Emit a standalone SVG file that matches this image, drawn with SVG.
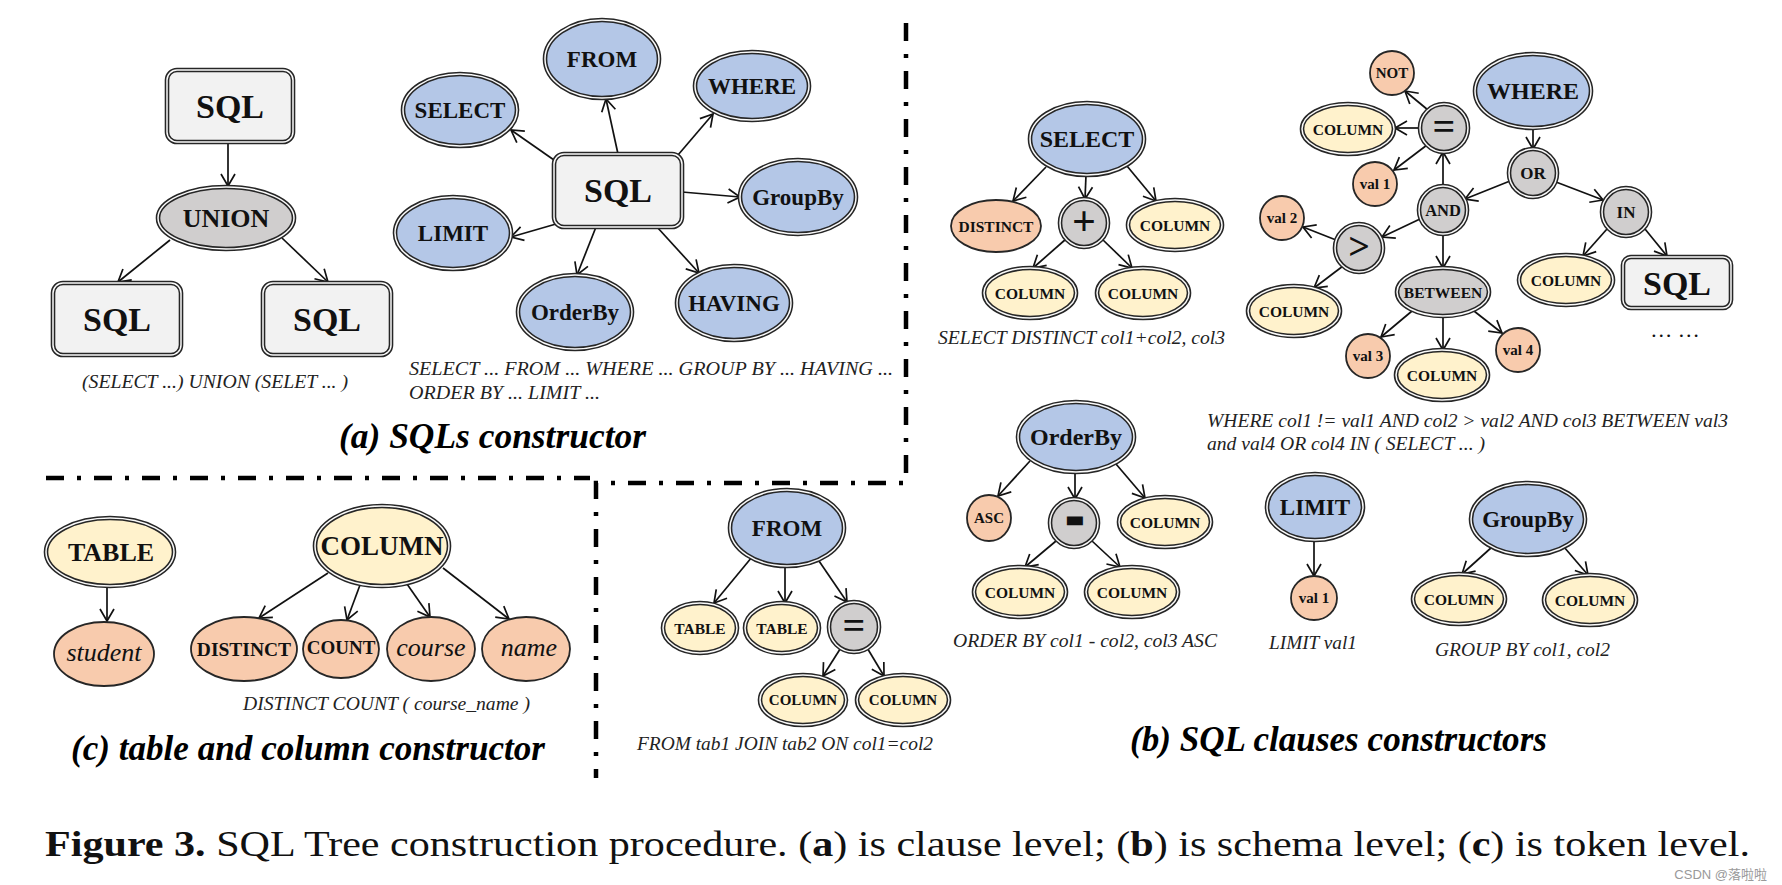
<svg xmlns="http://www.w3.org/2000/svg" width="1782" height="885" viewBox="0 0 1782 885">
<defs>
<marker id="ah" markerUnits="userSpaceOnUse" markerWidth="18" markerHeight="18" viewBox="-14 -9 16 18" refX="0" refY="0" orient="auto"><path d="M-12,-7 L0,0 L-12,7" fill="none" stroke="#111" stroke-width="1.7"/></marker>
</defs>
<style>
.d{stroke:#262626;stroke-width:4.6}
.gp{fill:none;stroke:#fafafa;stroke-width:1.5}
.s{stroke:#262626;stroke-width:1.8}
.bl{fill:#b4c7e7}.ye{fill:#fff2cc}.or{fill:#f8cbad}.gr{fill:#d0cece}.bx{fill:#f2f2f2}
text{font-family:"Liberation Serif","Times New Roman",serif;fill:#111}
.t{font-weight:bold;text-anchor:middle;dominant-baseline:central}
.it{font-style:italic;font-weight:normal}
.cap{font-style:italic;font-size:19px;fill:#222}
.ttl{font-style:italic;font-weight:bold;font-size:35px;fill:#000}
.con line{stroke:#111;stroke-width:1.7;marker-end:url(#ah)}
.sep{fill:none;stroke:#000;stroke-width:4.5;stroke-dasharray:18 13 4 13}
</style>
<rect width="1782" height="885" fill="#fff"/>

<!-- separators -->
<g id="separators">
<path class="sep" d="M906,23 V483 H596 V778"/>
<path class="sep" d="M46,478 H590"/>
</g>

<!-- connectors -->
<g class="con" id="connectors">
<!-- a left -->
<line x1="228" y1="142" x2="228" y2="186"/>
<line x1="170" y1="240" x2="118" y2="282"/>
<line x1="282" y1="238" x2="328" y2="282"/>
<!-- a right -->
<line x1="554" y1="160" x2="511" y2="130"/>
<line x1="618" y1="154" x2="606" y2="99"/>
<line x1="678" y1="155" x2="713" y2="114"/>
<line x1="682" y1="192" x2="740" y2="197"/>
<line x1="556" y1="224" x2="511" y2="237"/>
<line x1="596" y1="227" x2="577" y2="275"/>
<line x1="657" y1="227" x2="699" y2="273"/>
<!-- SELECT tree -->
<line x1="1046" y1="167" x2="1013" y2="201"/>
<line x1="1086" y1="175" x2="1085" y2="199"/>
<line x1="1127" y1="166" x2="1156" y2="201"/>
<line x1="1066" y1="239" x2="1033" y2="268"/>
<line x1="1102" y1="239" x2="1132" y2="268"/>
<!-- WHERE tree -->
<line x1="1533" y1="128" x2="1533" y2="149"/>
<line x1="1510" y1="181" x2="1465" y2="199"/>
<line x1="1556" y1="182" x2="1603" y2="200"/>
<line x1="1443" y1="186" x2="1443" y2="152"/>
<line x1="1428" y1="110" x2="1405" y2="91"/>
<line x1="1420" y1="128" x2="1395" y2="128"/>
<line x1="1427" y1="145" x2="1394" y2="170"/>
<line x1="1420" y1="219" x2="1382" y2="237"/>
<line x1="1336" y1="240" x2="1303" y2="227"/>
<line x1="1343" y1="266" x2="1314" y2="288"/>
<line x1="1443" y1="234" x2="1443" y2="268"/>
<line x1="1412" y1="311" x2="1381" y2="337"/>
<line x1="1443" y1="316" x2="1443" y2="350"/>
<line x1="1474" y1="311" x2="1502" y2="333"/>
<line x1="1607" y1="229" x2="1583" y2="256"/>
<line x1="1645" y1="229" x2="1667" y2="256"/>
<!-- OrderBy tree -->
<line x1="1030" y1="461" x2="998" y2="496"/>
<line x1="1075" y1="472" x2="1075" y2="499"/>
<line x1="1116" y1="464" x2="1145" y2="498"/>
<line x1="1056" y1="541" x2="1025" y2="567"/>
<line x1="1092" y1="541" x2="1120" y2="567"/>
<!-- LIMIT -->
<line x1="1314" y1="540" x2="1314" y2="576"/>
<!-- GroupBy -->
<line x1="1492" y1="547" x2="1462" y2="574"/>
<line x1="1564" y1="547" x2="1588" y2="575"/>
<!-- FROM tree -->
<line x1="752" y1="557" x2="714" y2="603"/>
<line x1="785" y1="566" x2="785" y2="603"/>
<line x1="819" y1="561" x2="847" y2="602"/>
<line x1="842" y1="646" x2="823" y2="676"/>
<line x1="866" y1="646" x2="884" y2="676"/>
<!-- c -->
<line x1="107" y1="586" x2="107" y2="621"/>
<line x1="328" y1="573" x2="259" y2="618"/>
<line x1="360" y1="585" x2="347" y2="620"/>
<line x1="407" y1="584" x2="430" y2="617"/>
<line x1="443" y1="568" x2="509" y2="619"/>
</g>

<!-- ===== (a) left ===== -->
<g id="a-sql-top"><rect class="d bx" x="167" y="70" width="126" height="72" rx="10"/><rect class="gp" x="167" y="70" width="126" height="72" rx="10"/><text class="t" x="230" y="106" font-size="34">SQL</text></g>
<g id="a-union"><ellipse class="d gr" cx="226" cy="218" rx="68" ry="31"/><ellipse class="gp" cx="226" cy="218" rx="68" ry="31"/><text class="t" x="226" y="218" font-size="26">UNION</text></g>
<g id="a-sql-left"><rect class="d bx" x="53" y="283" width="128" height="72" rx="10"/><rect class="gp" x="53" y="283" width="128" height="72" rx="10"/><text class="t" x="117" y="319" font-size="34">SQL</text></g>
<g id="a-sql-right"><rect class="d bx" x="263" y="283" width="128" height="72" rx="10"/><rect class="gp" x="263" y="283" width="128" height="72" rx="10"/><text class="t" x="327" y="319" font-size="34">SQL</text></g>
<text class="cap" x="82" y="388" textLength="266" lengthAdjust="spacingAndGlyphs">(SELECT ...) UNION (SELET ... )</text>

<!-- ===== (a) right ===== -->
<g id="a-sql-center"><rect class="d bx" x="554" y="154" width="128" height="73" rx="10"/><rect class="gp" x="554" y="154" width="128" height="73" rx="10"/><text class="t" x="618" y="190" font-size="34">SQL</text></g>
<g id="a-select"><ellipse class="d bl" cx="460" cy="110" rx="57" ry="36"/><ellipse class="gp" cx="460" cy="110" rx="57" ry="36"/><text class="t" x="460" y="110" font-size="23">SELECT</text></g>
<g id="a-from"><ellipse class="d bl" cx="602" cy="59" rx="57" ry="39"/><ellipse class="gp" cx="602" cy="59" rx="57" ry="39"/><text class="t" x="602" y="59" font-size="23">FROM</text></g>
<g id="a-where"><ellipse class="d bl" cx="752" cy="86" rx="57" ry="34"/><ellipse class="gp" cx="752" cy="86" rx="57" ry="34"/><text class="t" x="752" y="86" font-size="23">WHERE</text></g>
<g id="a-groupby"><ellipse class="d bl" cx="798" cy="197" rx="58" ry="37"/><ellipse class="gp" cx="798" cy="197" rx="58" ry="37"/><text class="t" x="798" y="197" font-size="23">GroupBy</text></g>
<g id="a-limit"><ellipse class="d bl" cx="453" cy="233" rx="58" ry="36"/><ellipse class="gp" cx="453" cy="233" rx="58" ry="36"/><text class="t" x="453" y="233" font-size="23">LIMIT</text></g>
<g id="a-orderby"><ellipse class="d bl" cx="575" cy="312" rx="57" ry="37"/><ellipse class="gp" cx="575" cy="312" rx="57" ry="37"/><text class="t" x="575" y="312" font-size="23">OrderBy</text></g>
<g id="a-having"><ellipse class="d bl" cx="734" cy="303" rx="57" ry="37"/><ellipse class="gp" cx="734" cy="303" rx="57" ry="37"/><text class="t" x="734" y="303" font-size="23">HAVING</text></g>
<text class="cap" x="409" y="375" textLength="484" lengthAdjust="spacingAndGlyphs">SELECT ... FROM ... WHERE ... GROUP BY ... HAVING ...</text>
<text class="cap" x="409" y="399" textLength="191" lengthAdjust="spacingAndGlyphs">ORDER BY ... LIMIT ...</text>
<text class="ttl" x="339" y="448" textLength="307" lengthAdjust="spacingAndGlyphs">(a) SQLs constructor</text>

<!-- ===== (b) SELECT tree ===== -->
<g id="b-select"><ellipse class="d bl" cx="1087" cy="139" rx="57" ry="36"/><ellipse class="gp" cx="1087" cy="139" rx="57" ry="36"/><text class="t" x="1087" y="139" font-size="24">SELECT</text></g>
<g id="b-select-distinct"><ellipse class="s or" cx="996" cy="226" rx="45" ry="26"/><text class="t" x="996" y="226" font-size="15.5">DISTINCT</text></g>
<g id="b-select-plus"><circle class="d gr" cx="1084" cy="223" r="24"/><circle class="gp" cx="1084" cy="223" r="24"/><text class="t" x="1084" y="221" font-size="42">+</text></g>
<g id="b-select-col3"><ellipse class="d ye" cx="1175" cy="225" rx="47" ry="25"/><ellipse class="gp" cx="1175" cy="225" rx="47" ry="25"/><text class="t" x="1175" y="225" font-size="15.5">COLUMN</text></g>
<g id="b-select-col1"><ellipse class="d ye" cx="1030" cy="293" rx="46" ry="25"/><ellipse class="gp" cx="1030" cy="293" rx="46" ry="25"/><text class="t" x="1030" y="293" font-size="15.5">COLUMN</text></g>
<g id="b-select-col2"><ellipse class="d ye" cx="1143" cy="293" rx="46" ry="25"/><ellipse class="gp" cx="1143" cy="293" rx="46" ry="25"/><text class="t" x="1143" y="293" font-size="15.5">COLUMN</text></g>
<text class="cap" x="938" y="344" textLength="287" lengthAdjust="spacingAndGlyphs">SELECT DISTINCT col1+col2, col3</text>

<!-- ===== (b) WHERE tree ===== -->
<g id="b-where"><ellipse class="d bl" cx="1533" cy="91" rx="58" ry="37"/><ellipse class="gp" cx="1533" cy="91" rx="58" ry="37"/><text class="t" x="1533" y="91" font-size="24">WHERE</text></g>
<g id="b-or"><circle class="d gr" cx="1533" cy="173" r="24"/><circle class="gp" cx="1533" cy="173" r="24"/><text class="t" x="1533" y="173" font-size="17">OR</text></g>
<g id="b-and"><circle class="d gr" cx="1443" cy="210" r="24"/><circle class="gp" cx="1443" cy="210" r="24"/><text class="t" x="1443" y="210" font-size="16.5">AND</text></g>
<g id="b-in"><circle class="d gr" cx="1626" cy="212" r="24"/><circle class="gp" cx="1626" cy="212" r="24"/><text class="t" x="1626" y="212" font-size="17">IN</text></g>
<g id="b-eq"><circle class="d gr" cx="1444" cy="128" r="24"/><circle class="gp" cx="1444" cy="128" r="24"/><text class="t" x="1444" y="126" font-size="40">=</text></g>
<g id="b-not"><circle class="s or" cx="1392" cy="73" r="22"/><text class="t" x="1392" y="73" font-size="15">NOT</text></g>
<g id="b-eq-col"><ellipse class="d ye" cx="1348" cy="129" rx="46" ry="25"/><ellipse class="gp" cx="1348" cy="129" rx="46" ry="25"/><text class="t" x="1348" y="129" font-size="15.5">COLUMN</text></g>
<g id="b-val1"><circle class="s or" cx="1375" cy="184" r="22"/><text class="t" x="1375" y="184" font-size="15">val 1</text></g>
<g id="b-val2"><circle class="s or" cx="1282" cy="218" r="22"/><text class="t" x="1282" y="218" font-size="15">val 2</text></g>
<g id="b-gt"><circle class="d gr" cx="1359" cy="248" r="24"/><circle class="gp" cx="1359" cy="248" r="24"/><text class="t" x="1359" y="246" font-size="38" font-weight="normal">&gt;</text></g>
<g id="b-gt-col"><ellipse class="d ye" cx="1294" cy="311" rx="46" ry="25"/><ellipse class="gp" cx="1294" cy="311" rx="46" ry="25"/><text class="t" x="1294" y="311" font-size="15.5">COLUMN</text></g>
<g id="b-between"><ellipse class="d gr" cx="1443" cy="292" rx="46" ry="24"/><ellipse class="gp" cx="1443" cy="292" rx="46" ry="24"/><text class="t" x="1443" y="292" font-size="15.5">BETWEEN</text></g>
<g id="b-val3"><circle class="s or" cx="1368" cy="356" r="22"/><text class="t" x="1368" y="356" font-size="15">val 3</text></g>
<g id="b-between-col"><ellipse class="d ye" cx="1442" cy="375" rx="46" ry="25"/><ellipse class="gp" cx="1442" cy="375" rx="46" ry="25"/><text class="t" x="1442" y="375" font-size="15.5">COLUMN</text></g>
<g id="b-val4"><circle class="s or" cx="1518" cy="350" r="22"/><text class="t" x="1518" y="350" font-size="15">val 4</text></g>
<g id="b-in-col"><ellipse class="d ye" cx="1566" cy="280" rx="47" ry="25"/><ellipse class="gp" cx="1566" cy="280" rx="47" ry="25"/><text class="t" x="1566" y="280" font-size="15.5">COLUMN</text></g>
<g id="b-in-sql"><rect class="d bx" x="1623" y="257" width="108" height="51" rx="8"/><rect class="gp" x="1623" y="257" width="108" height="51" rx="8"/><text class="t" x="1677" y="283" font-size="34">SQL</text></g>
<text x="1675" y="337" font-size="22" text-anchor="middle">… …</text>
<text class="cap" x="1207" y="427" textLength="521" lengthAdjust="spacingAndGlyphs">WHERE col1 != val1 AND col2 &gt; val2 AND col3 BETWEEN val3</text>
<text class="cap" x="1207" y="450" textLength="278" lengthAdjust="spacingAndGlyphs">and val4 OR col4 IN ( SELECT ... )</text>

<!-- ===== (b) OrderBy tree ===== -->
<g id="b-orderby"><ellipse class="d bl" cx="1076" cy="437" rx="58" ry="35"/><ellipse class="gp" cx="1076" cy="437" rx="58" ry="35"/><text class="t" x="1076" y="437" font-size="24">OrderBy</text></g>
<g id="b-asc"><ellipse class="s or" cx="989" cy="518" rx="22" ry="23"/><text class="t" x="989" y="518" font-size="15">ASC</text></g>
<g id="b-minus"><circle class="d gr" cx="1074" cy="523" r="24"/><circle class="gp" cx="1074" cy="523" r="24"/><text class="t" x="1075" y="518" font-size="44" style="font-family:'DejaVu Sans',sans-serif;stroke:#111;stroke-width:2.5">-</text></g>
<g id="b-orderby-col3"><ellipse class="d ye" cx="1165" cy="522" rx="46" ry="25"/><ellipse class="gp" cx="1165" cy="522" rx="46" ry="25"/><text class="t" x="1165" y="522" font-size="15.5">COLUMN</text></g>
<g id="b-orderby-col1"><ellipse class="d ye" cx="1020" cy="592" rx="46" ry="25"/><ellipse class="gp" cx="1020" cy="592" rx="46" ry="25"/><text class="t" x="1020" y="592" font-size="15.5">COLUMN</text></g>
<g id="b-orderby-col2"><ellipse class="d ye" cx="1132" cy="592" rx="46" ry="25"/><ellipse class="gp" cx="1132" cy="592" rx="46" ry="25"/><text class="t" x="1132" y="592" font-size="15.5">COLUMN</text></g>
<text class="cap" x="953" y="647" textLength="264" lengthAdjust="spacingAndGlyphs">ORDER BY col1 - col2, col3 ASC</text>

<!-- ===== (b) LIMIT ===== -->
<g id="b-limit"><ellipse class="d bl" cx="1315" cy="507" rx="48" ry="33"/><ellipse class="gp" cx="1315" cy="507" rx="48" ry="33"/><text class="t" x="1315" y="507" font-size="23">LIMIT</text></g>
<g id="b-limit-val1"><ellipse class="s or" cx="1314" cy="598" rx="23" ry="22"/><text class="t" x="1314" y="598" font-size="15">val 1</text></g>
<text class="cap" x="1269" y="649" textLength="88" lengthAdjust="spacingAndGlyphs">LIMIT val1</text>

<!-- ===== (b) GroupBy ===== -->
<g id="b-groupby"><ellipse class="d bl" cx="1528" cy="519" rx="57" ry="36"/><ellipse class="gp" cx="1528" cy="519" rx="57" ry="36"/><text class="t" x="1528" y="519" font-size="23">GroupBy</text></g>
<g id="b-groupby-col1"><ellipse class="d ye" cx="1459" cy="599" rx="46" ry="25"/><ellipse class="gp" cx="1459" cy="599" rx="46" ry="25"/><text class="t" x="1459" y="599" font-size="15.5">COLUMN</text></g>
<g id="b-groupby-col2"><ellipse class="d ye" cx="1590" cy="600" rx="46" ry="25"/><ellipse class="gp" cx="1590" cy="600" rx="46" ry="25"/><text class="t" x="1590" y="600" font-size="15.5">COLUMN</text></g>
<text class="cap" x="1435" y="656" textLength="175" lengthAdjust="spacingAndGlyphs">GROUP BY col1, col2</text>
<text class="ttl" x="1130" y="751" textLength="417" lengthAdjust="spacingAndGlyphs">(b) SQL clauses constructors</text>

<!-- ===== FROM tree ===== -->
<g id="b-from"><ellipse class="d bl" cx="787" cy="528" rx="57" ry="38"/><ellipse class="gp" cx="787" cy="528" rx="57" ry="38"/><text class="t" x="787" y="528" font-size="23">FROM</text></g>
<g id="b-from-table1"><ellipse class="d ye" cx="700" cy="628" rx="37" ry="25"/><ellipse class="gp" cx="700" cy="628" rx="37" ry="25"/><text class="t" x="700" y="628" font-size="15.5">TABLE</text></g>
<g id="b-from-table2"><ellipse class="d ye" cx="782" cy="628" rx="37" ry="25"/><ellipse class="gp" cx="782" cy="628" rx="37" ry="25"/><text class="t" x="782" y="628" font-size="15.5">TABLE</text></g>
<g id="b-from-eq"><circle class="d gr" cx="854" cy="627" r="25"/><circle class="gp" cx="854" cy="627" r="25"/><text class="t" x="854" y="625" font-size="40">=</text></g>
<g id="b-from-col1"><ellipse class="d ye" cx="803" cy="700" rx="43" ry="25"/><ellipse class="gp" cx="803" cy="700" rx="43" ry="25"/><text class="t" x="803" y="700" font-size="15">COLUMN</text></g>
<g id="b-from-col2"><ellipse class="d ye" cx="903" cy="700" rx="46" ry="25"/><ellipse class="gp" cx="903" cy="700" rx="46" ry="25"/><text class="t" x="903" y="700" font-size="15">COLUMN</text></g>
<text class="cap" x="637" y="750" textLength="296" lengthAdjust="spacingAndGlyphs">FROM tab1 JOIN tab2 ON col1=col2</text>

<!-- ===== (c) ===== -->
<g id="c-table"><ellipse class="d ye" cx="110" cy="552" rx="64" ry="34"/><ellipse class="gp" cx="110" cy="552" rx="64" ry="34"/><text class="t" x="111" y="552" font-size="26">TABLE</text></g>
<g id="c-student"><ellipse class="s or" cx="104" cy="654" rx="50" ry="32"/><text class="t it" x="104" y="652" font-size="26">student</text></g>
<g id="c-column"><ellipse class="d ye" cx="382" cy="546" rx="67" ry="40"/><ellipse class="gp" cx="382" cy="546" rx="67" ry="40"/><text class="t" x="382" y="546" font-size="27">COLUMN</text></g>
<g id="c-distinct"><ellipse class="s or" cx="244" cy="649" rx="53" ry="32"/><text class="t" x="244" y="649" font-size="19.5">DISTINCT</text></g>
<g id="c-count"><ellipse class="s or" cx="341" cy="649" rx="38" ry="29"/><text class="t" x="341" y="647" font-size="19">COUNT</text></g>
<g id="c-course"><ellipse class="s or" cx="431" cy="649" rx="44" ry="32"/><text class="t it" x="431" y="647" font-size="26">course</text></g>
<g id="c-name"><ellipse class="s or" cx="526" cy="649" rx="44" ry="32"/><text class="t it" x="529" y="647" font-size="26">name</text></g>
<text class="cap" x="243" y="710" textLength="287" lengthAdjust="spacingAndGlyphs">DISTINCT COUNT ( course_name )</text>
<text class="ttl" x="71" y="760" textLength="474" lengthAdjust="spacingAndGlyphs">(c) table and column constructor</text>

<!-- figure caption -->
<text x="45" y="856" font-size="36" textLength="1705" lengthAdjust="spacingAndGlyphs"><tspan font-weight="bold">Figure 3.</tspan> SQL Tree construction procedure. (<tspan font-weight="bold">a</tspan>) is clause level; (<tspan font-weight="bold">b</tspan>) is schema level; (<tspan font-weight="bold">c</tspan>) is token level.</text>
<text x="1767" y="879" font-size="13" text-anchor="end" style="font-family:'Liberation Sans','Noto Sans CJK SC',sans-serif;fill:#999">CSDN @落啦啦</text>
</svg>
